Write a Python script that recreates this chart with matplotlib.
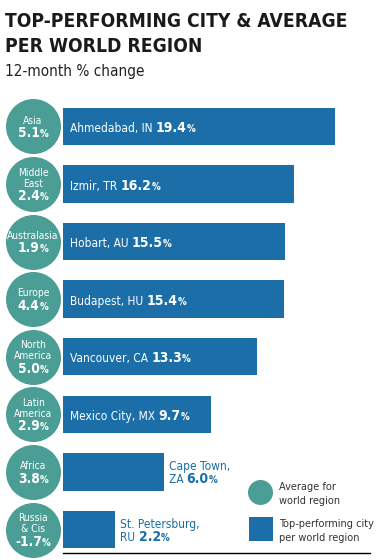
import matplotlib
matplotlib.use("Agg")
import matplotlib.pyplot as plt

regions = ["Asia", "Middle\nEast", "Australasia", "Europe", "North\nAmerica",
           "Latin\nAmerica", "Africa", "Russia\n& Cis"]
region_avg = [5.1, 2.4, 1.9, 4.4, 5.0, 2.9, 3.8, -1.7]
cities = ["Ahmedabad, IN", "Izmir, TR", "Hobart, AU", "Budapest, HU", "Vancouver, CA",
          "Mexico City, MX", "Cape Town,\nZA", "St. Petersburg,\nRU"]
city_change = [19.4, 16.2, 15.5, 15.4, 13.3, 9.7, 6.0, 2.2]

TEAL = "#4a9e95"
BLUE = "#1b6ea7"
plt.rcParams["font.family"] = ["DejaVu Sans"]
plt.rcParams["font.stretch"] = "condensed"

fig = plt.figure(figsize=(3.76, 5.60), dpi=100)
W, H = 376, 560
ax = fig.add_axes([63 / W, 7 / H, 307 / W, 456 / H])
x0, x1 = -1.87, 22.13
ax.set_xlim(x0, x1)
ax.set_ylim(7.408, -0.512)
for s in ["top", "left", "right"]:
    ax.spines[s].set_visible(False)
ax.spines["bottom"].set_linewidth(1.0)
ax.set_xticks([])
ax.set_yticks([])

ypos = list(range(len(cities)))
ax.barh(ypos, [v - x0 for v in city_change], left=x0, height=0.65, color=BLUE)

# region circles, left of the axes
cx = -4.21
ax.scatter([cx] * len(regions), ypos, s=1568, color=TEAL, clip_on=False, linewidths=0)

fig.canvas.draw()
renderer = fig.canvas.get_renderer()
PT = 72 / 100  # px -> pt


def rich(x, y, parts, dx_px, dy_px, ha, color):
    """Draw a row of differently styled pieces on one baseline."""
    anns = []
    widths = []
    for txt, size, weight in parts:
        a = ax.annotate(txt, xy=(x, y), xytext=(0, 0), textcoords="offset points",
                        fontsize=size, fontweight=weight, color=color,
                        ha="left", va="baseline", annotation_clip=False)
        widths.append(a.get_window_extent(renderer).width)
        anns.append(a)
    total = sum(widths)
    start = dx_px - (total / 2 if ha == "center" else 0)
    for a, w in zip(anns, widths):
        a.xyann = (start * PT, -dy_px * PT)
        start += w


for i, (name, avg) in enumerate(zip(regions, region_avg)):
    lines = name.split("\n")
    n = len(lines)
    top = -(7.7 + 11 * (n - 1) + 13.5) / 2
    for j, ln in enumerate(lines):
        rich(cx, i, [(ln, 7.4, "normal")], 0, top + 7.7 + 11 * j, "center", "white")
    rich(cx, i, [(f"{avg:.1f}", 9.8, "bold"), ("%", 7, "bold")], 0, -top, "center", "white")

for i, (city, val) in enumerate(zip(cities, city_change)):
    if "\n" not in city:
        rich(x0, i, [(city + " ", 8.6, "normal"), (f"{val:.1f}", 10, "bold"), ("%", 7, "bold")],
             7, 5.5, "left", "white")
    else:
        l1, l2 = city.split("\n")
        rich(val, i, [(l1, 8.6, "normal")], 5, -1.5, "left", BLUE)
        rich(val, i, [(l2 + " ", 8.6, "normal"), (f"{val:.1f}", 10, "bold"), ("%", 7, "bold")],
             5, 11, "left", BLUE)

# legend
ax.scatter([0.643], [0.1327], s=324, color=TEAL, marker="o", transform=ax.transAxes,
           clip_on=False, linewidths=0)
ax.scatter([0.646], [0.052], s=275, color=BLUE, marker="s", transform=ax.transAxes,
           clip_on=False, linewidths=0)
leg_lines = [("Average for", 0.138), ("world region", 0.1075),
             ("Top-performing city", 0.0564), ("per world region", 0.0263)]
for txt, yy in leg_lines:
    ax.text(0.7046, yy, txt, transform=ax.transAxes, fontsize=7.8, color="#333333",
            ha="left", va="baseline")

fig.text(5 / W, 1 - 27 / H, "TOP-PERFORMING CITY & AVERAGE", fontsize=13.8, fontweight="bold",
         color="#1a1a1a", ha="left", va="baseline")
fig.text(5 / W, 1 - 52 / H, "PER WORLD REGION", fontsize=13.8, fontweight="bold",
         color="#1a1a1a", ha="left", va="baseline")
fig.text(5 / W, 1 - 76 / H, "12-month % change", fontsize=11, color="#222222",
         ha="left", va="baseline")

fig.savefig("out.png", dpi=100)
